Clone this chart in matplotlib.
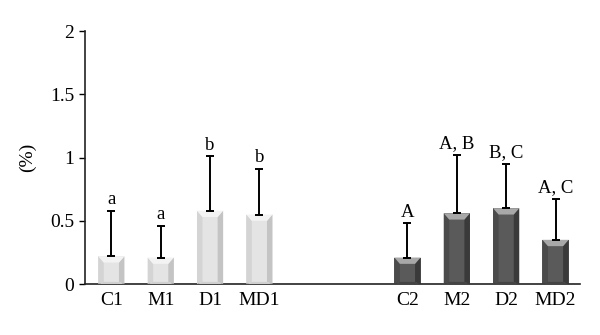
import matplotlib
matplotlib.use("Agg")
import matplotlib.pyplot as plt
from matplotlib.patches import Polygon

categories = ["C1", "M1", "D1", "MD1", "C2", "M2", "D2", "MD2"]
positions = [0, 1, 2, 3, 6, 7, 8, 9]
means = [0.22, 0.21, 0.58, 0.55, 0.21, 0.56, 0.60, 0.35]
errors = [0.36, 0.25, 0.43, 0.36, 0.27, 0.46, 0.35, 0.32]
letters = ["a", "a", "b", "b", "A", "A, B", "B, C", "A, C"]
groups = [1, 1, 1, 1, 2, 2, 2, 2]

palette = {
    1: dict(front="#e4e4e4", left="#d4d4d4", right="#c4c4c4", top="#f3f3f3", bottom="#cfcfcf"),
    2: dict(front="#5a5a5a", left="#4b4b4b", right="#3a3a3a", top="#a8a8a8", bottom="#444444"),
}

plt.rcParams['font.family'] = ['Liberation Serif', 'DejaVu Serif']

fig = plt.figure(figsize=(6.0, 3.35), dpi=100)
ax = fig.add_axes([0.142, 0.152, 0.825, 0.755])

bars = ax.bar(positions, means, width=0.53, color=[palette[g]["front"] for g in groups],
              linewidth=0, zorder=2)

bev_y = 0.05
for b, g in zip(bars, groups):
    c = palette[g]
    x0, w, h = b.get_x(), b.get_width(), b.get_height()
    x1 = x0 + w
    dx = 0.21 * w
    dy = min(bev_y, h / 3)
    by = dy * 0.35
    ax.add_patch(Polygon([(x0, 0), (x0 + dx, by), (x0 + dx, h - dy), (x0, h)],
                         closed=True, facecolor=c["left"], lw=0, zorder=3))
    ax.add_patch(Polygon([(x1, 0), (x1 - dx, by), (x1 - dx, h - dy), (x1, h)],
                         closed=True, facecolor=c["right"], lw=0, zorder=3))
    ax.add_patch(Polygon([(x0, h), (x1, h), (x1 - dx, h - dy), (x0 + dx, h - dy)],
                         closed=True, facecolor=c["top"], lw=0, zorder=3))
    ax.add_patch(Polygon([(x0, 0), (x1, 0), (x1 - dx, by), (x0 + dx, by)],
                         closed=True, facecolor=c["bottom"], lw=0, zorder=3))

ax.errorbar(positions, means, yerr=[[0] * len(means), errors], fmt="none",
            ecolor="black", elinewidth=1.4, capsize=3, capthick=1.4, zorder=4)

for p, m, e, t in zip(positions, means, errors, letters):
    ax.annotate(t, (p, m + e), xytext=(0, 2), textcoords="offset points",
                ha="center", va="bottom", fontsize=13.5)

ax.set_xlim(-0.53, 9.5)
ax.set_ylim(0, 2)
ax.set_yticks([0, 0.5, 1, 1.5, 2])
ax.set_yticklabels(["0", "0.5", "1", "1.5", "2"])
ax.set_xticks(positions)
ax.set_xticklabels(categories)
ax.tick_params(axis="x", length=0, labelsize=14, pad=6)
ax.tick_params(axis="y", length=4, width=1, direction="out", labelsize=14, pad=4)
ax.spines["top"].set_visible(False)
ax.spines["right"].set_visible(False)
for s in ("left", "bottom"):
    ax.spines[s].set_linewidth(1.2)
    ax.spines[s].set_color("#222222")
ax.set_ylabel("(%)", fontsize=14, labelpad=10)

fig.savefig("out.png", dpi=100)
